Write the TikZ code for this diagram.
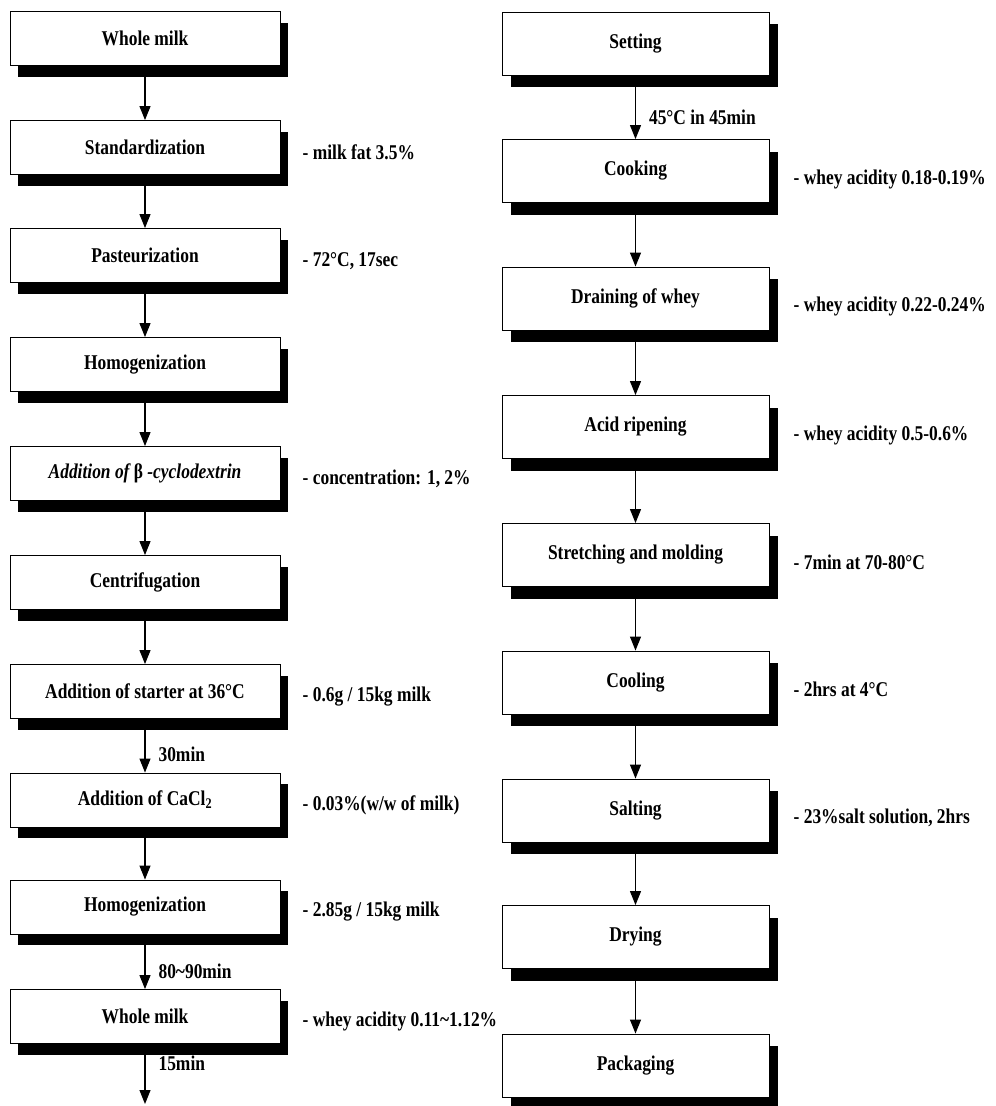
\documentclass[tikz,border=0pt]{standalone}
\usepackage{fontspec}
\setmainfont{Liberation Serif}[FakeStretch=0.83]
\usetikzlibrary{arrows.meta,positioning,shadows}

\begin{document}
\begin{tikzpicture}[x=1pt,y=-1pt,
    txt/.style={font=\bfseries\fontsize{21}{23}\selectfont},
    box/.style={txt, draw, line width=0.9pt, fill=white, inner sep=0pt},
    lbox/.style={box, minimum width=270pt, minimum height=54pt,
        drop shadow={shadow xshift=8pt, shadow yshift=-11pt, fill=black, opacity=1}},
    rbox/.style={box, minimum width=267pt, minimum height=63pt,
        drop shadow={shadow xshift=9pt, shadow yshift=-12pt, fill=black, opacity=1}},
    note/.style={txt, inner sep=0pt},
    tag/.style={txt, right, inner sep=0pt, xshift=13pt},
    flow/.style={-{Triangle[width=11pt,length=14pt]}, line width=1.1pt}]
    % page size
    \useasboundingbox (0,0) rectangle (996,1106);

    % Left column
    \node[lbox] (wm1) at (145,38.5) {Whole milk};
    \node[lbox] (std) at (145,147.5) {Standardization};
    \node[lbox] (past) at (145,255.5) {Pasteurization};
    \node[lbox] (homo1) at (145,364.5) {Homogenization};
    \node[lbox] (cyc) at (145,473.5) {\itshape Addition of \upshape β\itshape\ -cyclodextrin};
    \node[lbox] (cent) at (145,582.5) {Centrifugation};
    \node[lbox] (start) at (145,691.5) {Addition of starter at 36°C};
    \node[lbox] (cacl) at (145,800) {Addition of CaCl\textsubscript{2}};
    \node[lbox] (homo2) at (145,907) {Homogenization};
    \node[lbox] (wm2) at (145,1016.5) {Whole milk};
    \coordinate (lend) at (145,1104);

    % Right column
    \node[rbox] (set) at (635.5,43.5) {Setting};
    \node[rbox] (cook) at (635.5,171) {Cooking};
    \node[rbox] (drain) at (635.5,298.5) {Draining of whey};
    \node[rbox] (ripe) at (635.5,427) {Acid ripening};
    \node[rbox] (stretch) at (635.5,555) {Stretching and molding};
    \node[rbox] (cool) at (635.5,682.5) {Cooling};
    \node[rbox] (salt) at (635.5,810.5) {Salting};
    \node[rbox] (dry) at (635.5,937) {Drying};
    \node[rbox] (pack) at (635.5,1065.5) {Packaging};

    % Plain arrows
    \foreach \a/\b in {wm1/std,std/past,past/homo1,homo1/cyc,cyc/cent,cent/start,
        cacl/homo2,cook/drain,drain/ripe,ripe/stretch,stretch/cool,cool/salt,
        salt/dry,dry/pack} {
        \draw[flow] (\a) -- (\b);
    }

    % Arrows with times
    \draw[flow] (start) -- node[tag, pos=0.66] {30min} (cacl);
    \draw[flow] (homo2) -- node[tag, pos=0.68] {80\textasciitilde90min} (wm2);
    \draw[flow] (wm2) -- node[tag, pos=0.33] {15min} (lend);
    \draw[flow] (set) -- node[tag, pos=0.66] {45°C in 45min} (cook);

    % Conditions, left
    \node[note, right=22pt of std.east, yshift=-5pt] (std-note) {- milk fat 3.5\%};
    \node[note, right=22pt of past.east, yshift=-6pt] (past-note) {- 72°C, 17sec};
    \node[note, right=22pt of cyc.east, yshift=-5pt] (cyc-note) {- concentration: 1, 2\%};
    \node[note, right=22pt of start.east, yshift=-5pt] (start-note) {- 0.6g / 15kg milk};
    \node[note, right=22pt of cacl.east, yshift=-5pt] (cacl-note) {- 0.03\%(w/w of milk)};
    \node[note, right=22pt of homo2.east, yshift=-5pt] (homo2-note) {- 2.85g / 15kg milk};
    \node[note, right=22pt of wm2.east, yshift=-5pt] (wm2-note) {- whey acidity 0.11\textasciitilde1.12\%};

    % Conditions, right
    \node[note, right=24pt of cook.east, yshift=-8pt] (cook-note) {- whey acidity 0.18-0.19\%};
    \node[note, right=24pt of drain.east, yshift=-8pt] (drain-note) {- whey acidity 0.22-0.24\%};
    \node[note, right=24pt of ripe.east, yshift=-8pt] (ripe-note) {- whey acidity 0.5-0.6\%};
    \node[note, right=24pt of stretch.east, yshift=-7pt] (stretch-note) {- 7min at 70-80°C};
    \node[note, right=24pt of cool.east, yshift=-7pt] (cool-note) {- 2hrs at 4°C};
    \node[note, right=24pt of salt.east, yshift=-7pt] (salt-note) {- 23\%salt solution, 2hrs};

\end{tikzpicture}
\end{document}
